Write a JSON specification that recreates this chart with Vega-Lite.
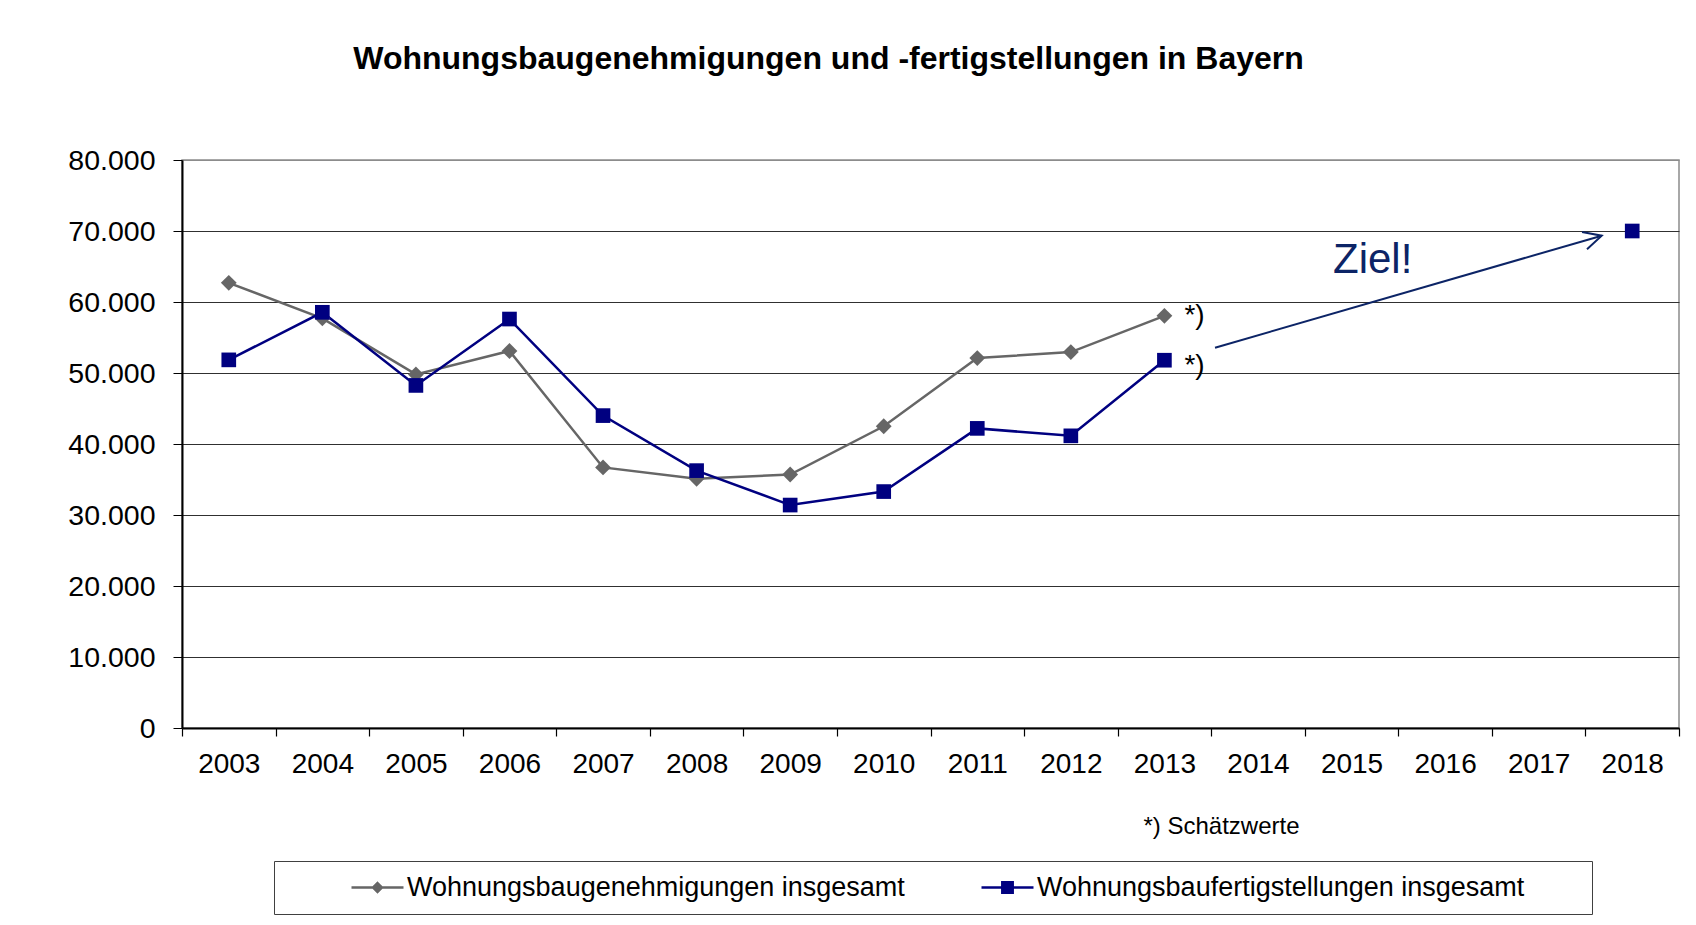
{
  "$schema": "https://vega.github.io/schema/vega-lite/v6.json",
  "autosize": "none",
  "width": 1497,
  "height": 568,
  "padding": {"left": 182, "top": 160, "right": 17, "bottom": 197},
  "background": "#ffffff",
  "config": {
    "font": "Liberation Sans",
    "view": {"stroke": "#8c8c8c", "strokeWidth": 1.5}
  },
  "title": {
    "text": "Wohnungsbaugenehmigungen und -fertigstellungen in Bayern",
    "frame": "group",
    "anchor": "middle",
    "dx": -102,
    "offset": 45,
    "baseline": "alphabetic",
    "fontSize": 32,
    "fontWeight": "bold",
    "font": "Liberation Sans",
    "color": "#000000"
  },
  "layer": [
    {
      "data": {
        "values": [
          {"year": 2003, "value": 62700, "series": "Wohnungsbaugenehmigungen insgesamt"},
          {"year": 2004, "value": 57700, "series": "Wohnungsbaugenehmigungen insgesamt"},
          {"year": 2005, "value": 49800, "series": "Wohnungsbaugenehmigungen insgesamt"},
          {"year": 2006, "value": 53100, "series": "Wohnungsbaugenehmigungen insgesamt"},
          {"year": 2007, "value": 36700, "series": "Wohnungsbaugenehmigungen insgesamt"},
          {"year": 2008, "value": 35100, "series": "Wohnungsbaugenehmigungen insgesamt"},
          {"year": 2009, "value": 35700, "series": "Wohnungsbaugenehmigungen insgesamt"},
          {"year": 2010, "value": 42500, "series": "Wohnungsbaugenehmigungen insgesamt"},
          {"year": 2011, "value": 52100, "series": "Wohnungsbaugenehmigungen insgesamt"},
          {"year": 2012, "value": 52950, "series": "Wohnungsbaugenehmigungen insgesamt"},
          {"year": 2013, "value": 58050, "series": "Wohnungsbaugenehmigungen insgesamt"},
          {"year": 2003, "value": 51850, "series": "Wohnungsbaufertigstellungen insgesamt"},
          {"year": 2004, "value": 58550, "series": "Wohnungsbaufertigstellungen insgesamt"},
          {"year": 2005, "value": 48250, "series": "Wohnungsbaufertigstellungen insgesamt"},
          {"year": 2006, "value": 57600, "series": "Wohnungsbaufertigstellungen insgesamt"},
          {"year": 2007, "value": 44000, "series": "Wohnungsbaufertigstellungen insgesamt"},
          {"year": 2008, "value": 36250, "series": "Wohnungsbaufertigstellungen insgesamt"},
          {"year": 2009, "value": 31400, "series": "Wohnungsbaufertigstellungen insgesamt"},
          {"year": 2010, "value": 33300, "series": "Wohnungsbaufertigstellungen insgesamt"},
          {"year": 2011, "value": 42200, "series": "Wohnungsbaufertigstellungen insgesamt"},
          {"year": 2012, "value": 41150, "series": "Wohnungsbaufertigstellungen insgesamt"},
          {"year": 2013, "value": 51800, "series": "Wohnungsbaufertigstellungen insgesamt"},
          {"year": 2018, "value": 70000, "series": "Wohnungsbaufertigstellungen insgesamt"}
        ]
      },
      "encoding": {
        "x": {
          "field": "year",
          "type": "quantitative",
          "scale": {"domain": [2002.5, 2018.5], "nice": false, "zero": false},
          "axis": {
            "values": [2002.5, 2003.5, 2004.5, 2005.5, 2006.5, 2007.5, 2008.5, 2009.5, 2010.5, 2011.5, 2012.5, 2013.5, 2014.5, 2015.5, 2016.5, 2017.5, 2018.5],
            "labelExpr": "datum.value > 2018 ? '' : '' + (datum.value + 0.5)",
            "labelOffset": 46.78,
            "labelFlush": false,
            "labelOverlap": false,
            "labelBound": false,
            "labelFontSize": 28,
            "labelFont": "Liberation Sans",
            "labelColor": "#000000",
            "labelPadding": 14,
            "grid": false,
            "tickSize": 8,
            "tickColor": "#000000",
            "tickWidth": 1.2,
            "domainColor": "#000000",
            "domainWidth": 2,
            "title": "*) Schätzwerte",
            "titleX": 961,
            "titleY": 105,
            "titleAlign": "left",
            "titleAnchor": "start",
            "titleBaseline": "alphabetic",
            "titleFontSize": 24,
            "titleFontWeight": "normal",
            "titleFont": "Liberation Sans",
            "titleColor": "#000000"
          }
        },
        "y": {
          "field": "value",
          "type": "quantitative",
          "scale": {"domain": [0, 80000], "nice": false},
          "axis": {
            "values": [0, 10000, 20000, 30000, 40000, 50000, 60000, 70000, 80000],
            "labelExpr": "replace(format(datum.value, ','), ',', '.')",
            "labelFontSize": 28.5,
            "labelFont": "Liberation Sans",
            "labelColor": "#000000",
            "labelPadding": 18,
            "tickSize": 9,
            "tickColor": "#000000",
            "domainColor": "#000000",
            "domainWidth": 2,
            "grid": true,
            "gridColor": {"condition": {"test": "datum.value == 80000", "value": "#8c8c8c"}, "value": "#303030"},
            "gridWidth": 1.2,
            "title": null
          }
        },
        "color": {
          "field": "series",
          "type": "nominal",
          "scale": {
            "domain": ["Wohnungsbaugenehmigungen insgesamt", "Wohnungsbaufertigstellungen insgesamt"],
            "range": ["#666666", "#000080"]
          },
          "legend": {
            "orient": "none",
            "legendX": 92,
            "legendY": 701,
            "direction": "horizontal",
            "title": " ",
            "titleOrient": "right",
            "titlePadding": 56,
            "titleFontSize": 27,
            "titleColor": "#ffffff",
            "strokeColor": "#404040",
            "padding": 12,
            "labelFontSize": 27,
            "labelFont": "Liberation Sans",
            "labelColor": "#000000",
            "labelLimit": 1000,
            "symbolSize": 2704,
            "symbolOffset": 64,
            "labelOffset": 2,
            "columnPadding": 11,
            "clipHeight": 29,
            "symbolStrokeWidth": 2.5,
            "encode": {
              "symbols": {
                "update": {
                  "shape": {"signal": "datum.value === 'Wohnungsbaugenehmigungen insgesamt' ? 'M-1,0L1,0M0,-0.17L0.17,0L0,0.17L-0.17,0Z' : 'M-1,0L1,0M-0.2,-0.2L0.2,-0.2L0.2,0.2L-0.2,0.2Z'"},
                  "fill": {"signal": "datum.value === 'Wohnungsbaugenehmigungen insgesamt' ? '#666666' : '#000080'"},
                  "stroke": {"signal": "datum.value === 'Wohnungsbaugenehmigungen insgesamt' ? '#666666' : '#000080'"},
                  "strokeWidth": {"value": 2.5},
                  "opacity": {"value": 1}
                }
              }
            }
          }
        }
      },
      "layer": [
        {
          "transform": [{"filter": "datum.year <= 2013"}],
          "mark": {"type": "line", "strokeWidth": 2.5}
        },
        {
          "transform": [{"filter": "datum.series === 'Wohnungsbaugenehmigungen insgesamt'"}],
          "mark": {"type": "point", "shape": "diamond", "filled": true, "opacity": 1, "size": 250, "strokeWidth": 0}
        },
        {
          "transform": [{"filter": "datum.series === 'Wohnungsbaufertigstellungen insgesamt'"}],
          "mark": {"type": "point", "shape": "square", "filled": true, "opacity": 1, "size": 215, "strokeWidth": 0}
        }
      ]
    },
    {
      "data": {
        "values": [
          {"year": 2013, "value": 57960, "label": "*)"},
          {"year": 2013, "value": 50990, "label": "*)"}
        ]
      },
      "mark": {"type": "text", "align": "left", "baseline": "middle", "dx": 20, "fontSize": 28, "font": "Liberation Sans", "color": "#000000"},
      "encoding": {
        "x": {"field": "year", "type": "quantitative"},
        "y": {"field": "value", "type": "quantitative"},
        "text": {"field": "label"}
      }
    },
    {
      "data": {"values": [{"year": 2014.802, "value": 64127, "label": "Ziel!"}]},
      "mark": {"type": "text", "align": "left", "baseline": "alphabetic", "fontSize": 42, "font": "Liberation Sans", "color": "#0c2466"},
      "encoding": {
        "x": {"field": "year", "type": "quantitative"},
        "y": {"field": "value", "type": "quantitative"},
        "text": {"field": "label"}
      }
    },
    {
      "data": {"values": [{"year": 2013.541, "value": 53563, "year2": 2017.674, "value2": 69338}]},
      "mark": {"type": "rule", "strokeWidth": 2, "color": "#0c2466"},
      "encoding": {
        "x": {"field": "year", "type": "quantitative"},
        "y": {"field": "value", "type": "quantitative"},
        "x2": {"field": "year2"},
        "y2": {"field": "value2"}
      }
    },
    {
      "data": {"values": [{"year": 2017.674, "value": 69338}]},
      "mark": {"type": "point", "shape": "M-1,-0.5L0,0L-1,0.5", "size": 1282, "angle": 343.85, "filled": false, "stroke": "#0c2466", "strokeWidth": 2, "opacity": 1},
      "encoding": {
        "x": {"field": "year", "type": "quantitative"},
        "y": {"field": "value", "type": "quantitative"}
      }
    }
  ]
}
